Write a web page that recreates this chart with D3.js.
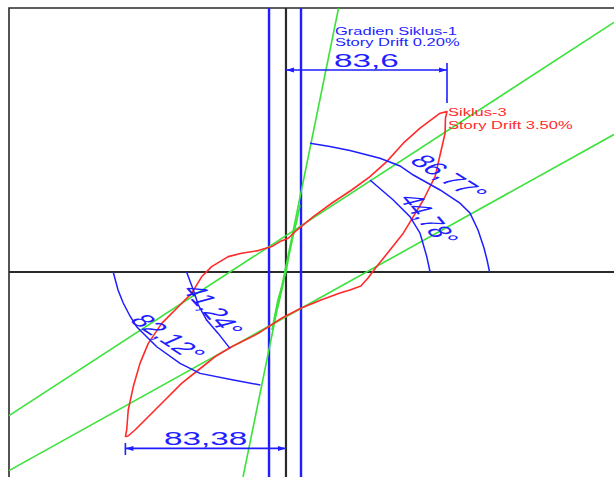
<!DOCTYPE html>
<html>
<head>
<meta charset="utf-8">
<script src="https://cdn.jsdelivr.net/npm/d3@7"></script>
<style>
  body { margin: 0; background: #fff; }
  svg { display: block; }
</style>
</head>
<body>
<svg id="drawing_region"></svg>
<script>
// displacement (mm) , load (kN)
const siklus3Naik = [
    [-83.4,-82.4],[-82.7,-79.0],[-81.9,-69.0],[-79.3,-57.4],[-75.8,-45.7],[-71.5,-35.7],
    [-64.5,-25.7],[-55.9,-17.4],[-49.0,-10.7],[-43.8,-2.4],[-38.6,2.7],[-30.0,7.7],
    [-23.0,9.4],[-14.4,10.7],[-7.4,12.7],[-3.1,15.2],[1.2,16.9],[4.7,20.2],[14.2,27.7],
    [23.9,34.5],[34.1,41.0],[43.6,47.7],[52.3,55.2],[60.9,64.4],[69.6,71.9],[80.0,79.4],
    [83.6,80.2]
];
const siklus3Turun = [
    [83.6,80.2],[82.8,77.0],[82.6,69.4],[80.0,58.5],[77.4,47.7],[73.9,41.0],[71.3,36.0],
    [66.1,27.7],[60.9,19.4],[54.0,11.0],[47.1,2.7],[42.6,-3.0],[38.9,-7.0],[33.2,-9.0],
    [28.0,-10.5],[18.2,-14.0],[8.0,-18.0],[-2.1,-23.0],[-14.4,-30.7],[-28.2,-37.4],
    [-36.9,-42.4],[-45.5,-49.0],[-54.2,-55.7],[-62.8,-64.0],[-71.5,-72.4],[-78.4,-79.0],
    [-82.0,-82.0],[-83.4,-82.4]
];
const siklus1 = [
    [-7.3,-29],[-4.2,-14],[-1.6,-5.5],[0,0],[1.6,8.5],[3.6,17.5],[5.7,26],[7.3,33.5],
    [6.2,28.5],[4.2,20],[2.1,11],[0,2],[-1.6,-6.5],[-3.6,-15],[-6.2,-24],[-7.3,-29]
];
const gradienSiklus1 = [[27.3,132],[-22.3,-102.5]];
const gradienAtas = [[-143.8,-71.8],[170.3,124.8]];
const gradienBawah = [[-143.8,-99.3],[170.3,68.75]];
const batasSiklus1 = [-8.8, 7.8];

const busur86 = [[12.5,64.4],[22.8,62.8],[33.2,60.8],[48.8,56.9],[59.2,53.0],[66.1,48.5],
    [80.0,41.0],[90.3,34.4],[95.5,29.5],[99.7,21.0],[102.8,12.0],[104.4,6.0],[105.7,0]];
const busur44 = [[43.6,46.0],[55.7,36.0],[64.4,27.7],[69.6,19.4],[73.1,7.7],[74.8,0]];
const busur82 = [[-89.7,0],[-87.2,-9.0],[-84.5,-15.5],[-81.0,-22.0],[-77.5,-27.4],[-67.1,-37.4],
    [-55.0,-45.7],[-44.6,-50.7],[-27.3,-54.0],[-13.3,-56.5]];
const busur41 = [[-51.6,0],[-48.1,-9.0],[-45.5,-16.5],[-41.2,-24.0],[-35.2,-30.7],[-29.1,-38.2]];

const sudutLabel = ["86,77°", "44,78°", "41,24°", "82,12°"];
const dimensi = [83.6, -83.38];
const dimensiLabel = ["83,6", "83,38"];
const teksSiklus1 = ["Gradien Siklus-1", "Story Drift 0.20%"];
const teksSiklus3 = ["Siklus-3", "Story Drift 3.50%"];

const W = 614, H = 477;
const BLUE = "#1e1eff", GREEN = "#3ae23a", RED = "#ff2b2b", BLACK = "#2a2a2a";

const svg = d3.select("#drawing_region").attr("width", W).attr("height", H);

const xScale = d3.scaleLinear().domain([-143.8, 170.3]).range([9, 614]);
const yScale = d3.scaleLinear().domain([-102.5, 132]).range([477, 8]);

const line = d3.line().x(d => xScale(d[0])).y(d => yScale(d[1]));

// frame
svg.append("path")
    .attr("d", `M${xScale(-143.8)},${H + 5}V${yScale(132)}H${W + 5}`)
    .attr("fill", "none").attr("stroke", BLACK).attr("stroke-width", 1.6);

// axes
svg.append("line")
    .attr("x1", xScale(-143.8)).attr("x2", W)
    .attr("y1", yScale(0)).attr("y2", yScale(0))
    .attr("stroke", BLACK).attr("stroke-width", 2);
svg.append("line")
    .attr("x1", xScale(0)).attr("x2", xScale(0))
    .attr("y1", yScale(132)).attr("y2", H)
    .attr("stroke", BLACK).attr("stroke-width", 2.2);

// blue limits of cycle 1
svg.selectAll("line.batas")
    .data(batasSiklus1)
    .enter().append("line")
    .attr("class", "batas")
    .attr("x1", d => xScale(d)).attr("x2", d => xScale(d))
    .attr("y1", yScale(132)).attr("y2", H)
    .attr("stroke", BLUE).attr("stroke-width", 2.4);

// green gradient lines
svg.selectAll("path.gradien")
    .data([gradienSiklus1, gradienAtas, gradienBawah, siklus1])
    .enter().append("path")
    .attr("class", "gradien")
    .attr("d", d => line(d))
    .attr("fill", "none").attr("stroke", GREEN).attr("stroke-width", 1.6);

// red cycle 3 loop
svg.append("path")
    .attr("d", line(siklus3Naik.concat(siklus3Turun)))
    .attr("fill", "none").attr("stroke", RED).attr("stroke-width", 1.6)
    .attr("stroke-linejoin", "round");

// angle arcs
svg.selectAll("path.busur")
    .data([busur86, busur44, busur41, busur82])
    .enter().append("path")
    .attr("class", "busur")
    .attr("d", d => line(d))
    .attr("fill", "none").attr("stroke", BLUE).attr("stroke-width", 1.5);

// text helper: CAD text is stretched horizontally
const SX = 1.85;
function teks(str, x, y, size, color, rot, sx, anchor) {
    svg.append("text")
        .attr("transform", `translate(${x},${y}) scale(${sx},1) rotate(${rot})`)
        .attr("text-anchor", anchor)
        .attr("dy", rot ? "0.35em" : 0)
        .attr("font-family", "'Liberation Sans', Arial, sans-serif")
        .attr("font-size", size)
        .attr("fill", color)
        .text(str);
}

// angle labels
const sudutPos = [[449, 177, 49], [429, 219, 65], [213, 310, 64], [168, 337, 51]];
sudutLabel.forEach((s, i) => teks(s, sudutPos[i][0], sudutPos[i][1], 18, BLUE, sudutPos[i][2], SX, "middle"));

// dimension lines
function panah(x, y, dir) {
    svg.append("path")
        .attr("d", `M${x},${y}l${-8 * dir},-2.5l0,5z`)
        .attr("fill", BLUE);
}
dimensi.forEach((d, i) => {
    const yDim = i === 0 ? 101 : -88.2;
    const x0 = xScale(0), x1 = xScale(d), y = yScale(yDim);
    svg.append("line")
        .attr("x1", x0).attr("x2", x1).attr("y1", y).attr("y2", y)
        .attr("stroke", BLUE).attr("stroke-width", 1.6);
    const dir = d > 0 ? 1 : -1;
    panah(x1, y, dir);
    panah(x0, y, -dir);
    const ext = i === 0 ? [104.5, 84.5] : [-85.5, -91.5];
    svg.append("line")
        .attr("x1", x1).attr("x2", x1)
        .attr("y1", yScale(ext[0])).attr("y2", yScale(ext[1]))
        .attr("stroke", BLUE).attr("stroke-width", 1.6);
    teks(dimensiLabel[i], (x0 + x1) / 2, y - 3.5, 18, BLUE, 0, SX, "middle");
});

// annotations
teksSiklus1.forEach((s, i) => teks(s, 335, 35 + i * 11, 10, BLUE, 0, 1.65, "start"));
teksSiklus3.forEach((s, i) => teks(s, 448, 116 + i * 12.5, 10, RED, 0, 1.65, "start"));
</script>
</body>
</html>
